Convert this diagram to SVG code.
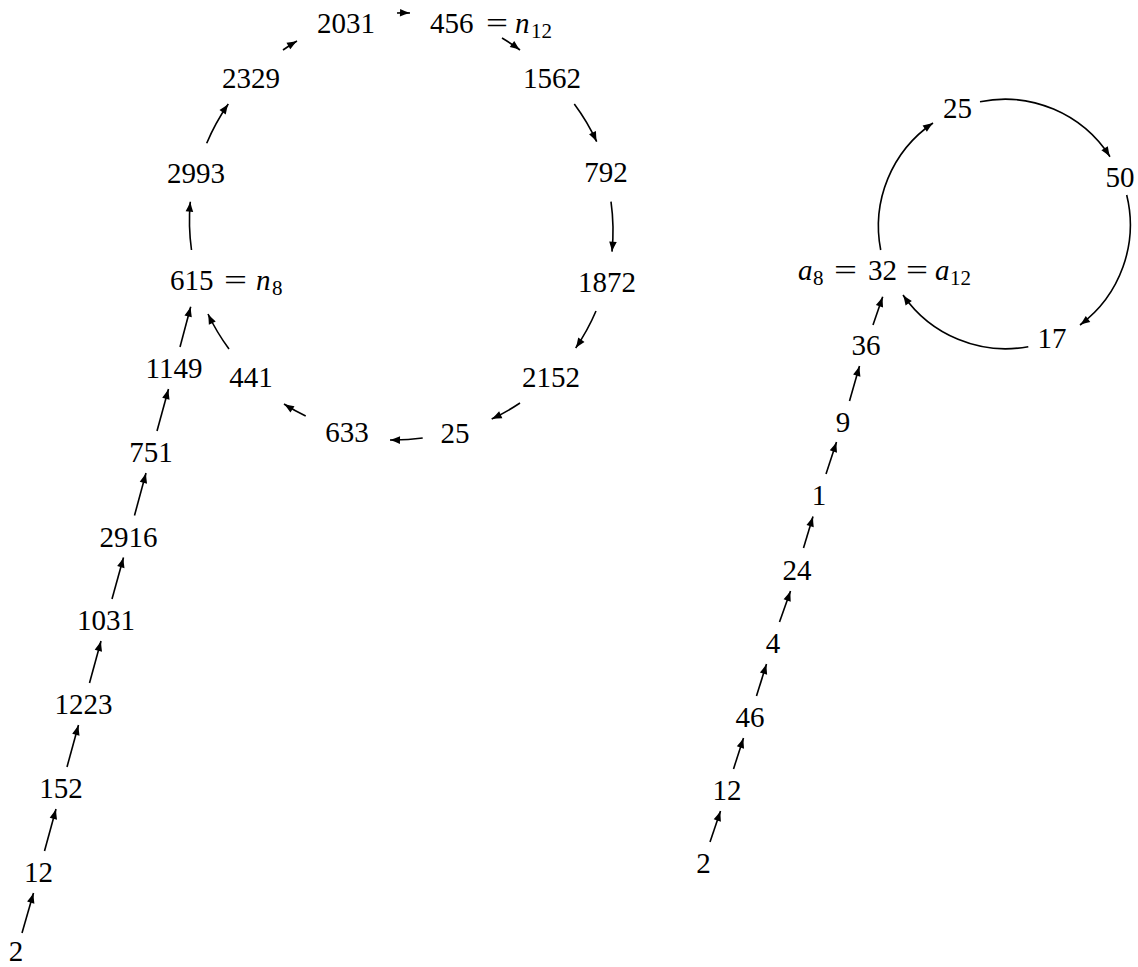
<svg xmlns="http://www.w3.org/2000/svg" width="1138" height="967" viewBox="0 0 1138 967">
<style>
text{font-family:"Liberation Serif","DejaVu Serif",serif;font-size:29px;fill:#000}
.c{text-anchor:middle}
.i{font-style:italic}
.s{font-size:21px}
.e path{fill:none;stroke:#000;stroke-width:1.6;marker-end:url(#ah)}
</style>
<defs>
<marker id="ah" viewBox="-11 -5 12 10" refX="0" refY="0" markerWidth="12" markerHeight="10" orient="auto" markerUnits="userSpaceOnUse">
<path d="M0,0 Q-5,-1.6 -10,-3.8 L-10,3.8 Q-5,1.6 0,0 Z" fill="#000"/>
</marker>
</defs>
<rect width="1138" height="967" fill="#fff"/>

<g id="left-chain">
<g id="L2"><text class="c" x="16" y="961">2</text></g>
<g id="L12"><text class="c" x="38.5" y="882">12</text></g>
<g id="L152"><text class="c" x="61" y="798">152</text></g>
<g id="L1223"><text class="c" x="83.5" y="714">1223</text></g>
<g id="L1031"><text class="c" x="106" y="630">1031</text></g>
<g id="L2916"><text class="c" x="128.5" y="546.5">2916</text></g>
<g id="L751"><text class="c" x="151" y="462">751</text></g>
<g id="L1149"><text class="c" x="174" y="378">1149</text></g>
</g>

<g id="left-cycle">
<g id="L615"><text x="170" y="290">615</text><text x="224" y="290" textLength="23" lengthAdjust="spacingAndGlyphs">=</text><text class="i" x="256" y="290">n</text><text class="s" x="272" y="295">8</text></g>
<g id="L2993"><text class="c" x="196" y="183">2993</text></g>
<g id="L2329"><text class="c" x="251" y="88">2329</text></g>
<g id="L2031"><text class="c" x="346" y="33">2031</text></g>
<g id="L456"><text x="430" y="33">456</text><text x="486" y="33" textLength="22" lengthAdjust="spacingAndGlyphs">=</text><text class="i" x="515" y="33">n</text><text class="s" x="531" y="38">12</text></g>
<g id="L1562"><text class="c" x="552" y="88">1562</text></g>
<g id="L792"><text class="c" x="606" y="182">792</text></g>
<g id="L1872"><text class="c" x="607" y="292">1872</text></g>
<g id="L2152"><text class="c" x="551" y="387">2152</text></g>
<g id="L25"><text class="c" x="455" y="443">25</text></g>
<g id="L633"><text class="c" x="347" y="442">633</text></g>
<g id="L441"><text class="c" x="251" y="387">441</text></g>
</g>

<g id="right-chain">
<g id="R2"><text class="c" x="703.5" y="873">2</text></g>
<g id="R12"><text class="c" x="727" y="800">12</text></g>
<g id="R46"><text class="c" x="750" y="727">46</text></g>
<g id="R4"><text class="c" x="773" y="653">4</text></g>
<g id="R24"><text class="c" x="797" y="580">24</text></g>
<g id="R1"><text class="c" x="819" y="505">1</text></g>
<g id="R9"><text class="c" x="843" y="432">9</text></g>
<g id="R36"><text class="c" x="866" y="355">36</text></g>
</g>

<g id="right-cycle">
<g id="R32"><text class="i" x="798" y="280">a</text><text class="s" x="813" y="285">8</text><text x="834" y="280" textLength="23" lengthAdjust="spacingAndGlyphs">=</text><text class="c" x="882.5" y="280">32</text><text x="906" y="280" textLength="22" lengthAdjust="spacingAndGlyphs">=</text><text class="i" x="935" y="280">a</text><text class="s" x="950" y="285">12</text></g>
<g id="R25"><text class="c" x="957.5" y="118">25</text></g>
<g id="R50"><text class="c" x="1120" y="187">50</text></g>
<g id="R17"><text class="c" x="1052" y="348">17</text></g>
</g>

<g id="connectors" class="e">
<path d="M22,933 L33.5,893"/>
<path d="M44.5,851 L56,809"/>
<path d="M67,767 L78.5,725"/>
<path d="M89.5,683 L101,641"/>
<path d="M112,599 L123.5,557.5"/>
<path d="M134.5,515.5 L146,473"/>
<path d="M157,431 L168.5,389"/>
<path d="M180,347 L190.7,306.7"/>

<path d="M191.5,250 A212,212 0 0 1 190.3,201.7"/>
<path d="M206.7,143.3 A212,212 0 0 1 228.3,104"/>
<path d="M283,50 A212,212 0 0 1 297,41"/>
<path d="M397,13 A212,212 0 0 1 410,13"/>
<path d="M502,38 A212,212 0 0 1 520,50"/>
<path d="M574.3,104 A212,212 0 0 1 596.7,141.7"/>
<path d="M611,201.7 A212,212 0 0 1 612,251.7"/>
<path d="M596,311 A212,212 0 0 1 575.7,348"/>
<path d="M520,403 A212,212 0 0 1 491.7,419"/>
<path d="M422.7,438 A212,212 0 0 1 390,440"/>
<path d="M305.7,416 A212,212 0 0 1 284,404"/>
<path d="M229,349 A212,212 0 0 1 208,314"/>

<path d="M710,842 L720.5,811"/>
<path d="M733.5,769 L743.5,738"/>
<path d="M756.5,696 L766.5,664"/>
<path d="M779.5,622 L790.5,591"/>
<path d="M803.5,548 L813,516.5"/>
<path d="M826,474 L836.5,442"/>
<path d="M849.5,401 L859.5,366"/>
<path d="M873,325 L882.7,296.7"/>

<path d="M880.7,250 A125,125 0 0 1 933,123"/>
<path d="M980,101.7 A125,125 0 0 1 1110,156.7"/>
<path d="M1126.7,195 A125,125 0 0 1 1080,325"/>
<path d="M1028.3,346.7 A125,125 0 0 1 903,295"/>
</g>
</svg>
